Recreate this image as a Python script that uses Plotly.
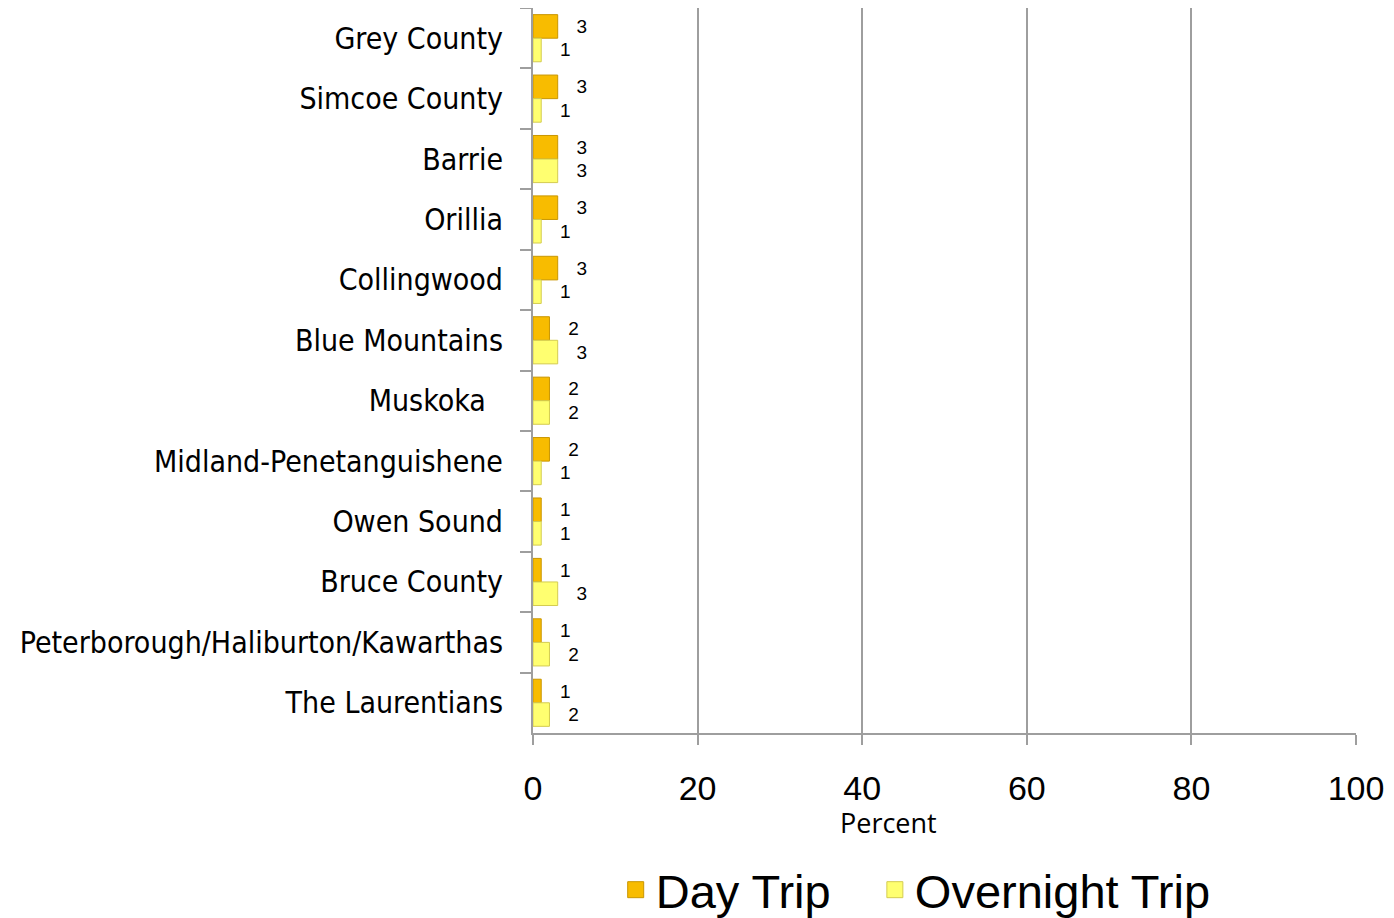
import plotly.graph_objects as go

regions = ["Grey County", "Simcoe County", "Barrie", "Orillia", "Collingwood",
           "Blue Mountains", "Muskoka\u00a0\u00a0", "Midland-Penetanguishene", "Owen Sound",
           "Bruce County", "Peterborough/Haliburton/Kawarthas", "The Laurentians"]
day_trip = [3, 3, 3, 3, 3, 2, 2, 2, 1, 1, 1, 1]
overnight_trip = [1, 1, 3, 1, 1, 3, 2, 1, 1, 3, 2, 2]
x_ticks = [0, 20, 40, 60, 80, 100]

day_col, day_edge = "#F8BC00", "#C99600"
night_col, night_edge = "#FFFF70", "#D4CC50"
label_font = dict(family="Arial, Liberation Sans", size=19, color="black")

fig = go.Figure()

# day trip first so it sits on top with the reversed category axis
fig.add_trace(go.Bar(
    y=regions, x=day_trip, orientation="h", name="Day Trip", showlegend=False,
    marker=dict(color=day_col, line=dict(color=day_edge, width=1)),
    text=["   " + str(v) for v in day_trip], textposition="outside",
    textfont=label_font, cliponaxis=False,
))
fig.add_trace(go.Bar(
    y=regions, x=overnight_trip, orientation="h", name="Overnight Trip", showlegend=False,
    marker=dict(color=night_col, line=dict(color=night_edge, width=1)),
    text=["   " + str(v) for v in overnight_trip], textposition="outside",
    textfont=label_font, cliponaxis=False,
))

# legend-only entries with square swatches
for nm, c, e in [("Day Trip\u00a0\u00a0\u00a0", day_col, day_edge),
                 ("Overnight Trip", night_col, night_edge)]:
    fig.add_trace(go.Scatter(
        x=[None], y=[None], mode="markers", name=nm,
        marker=dict(symbol="square", size=24, color=c, line=dict(color=e, width=1)),
    ))

fig.update_layout(
    width=1386, height=910,
    barmode="group", bargap=0.22, bargroupgap=0,
    plot_bgcolor="white", paper_bgcolor="white",
    margin=dict(l=525, r=38, t=0, b=185, autoexpand=False),
    showlegend=True,
    legend=dict(orientation="h", x=0.465, xanchor="center", y=-0.165, yanchor="top",
                font=dict(family="Arial, Liberation Sans", size=47, color="black"),
                itemsizing="trace", traceorder="normal"),
    uniformtext=dict(minsize=19, mode="show"),
)

fig.update_xaxes(
    range=[0, 100], tickvals=x_ticks,
    showgrid=True, gridcolor="#9E9E9E", gridwidth=1.5,
    showline=True, linecolor="#9E9E9E", linewidth=2,
    ticks="outside", ticklen=10, tickcolor="#9E9E9E", tickwidth=2,
    ticklabelstandoff=14,
    tickfont=dict(family="Arial, Liberation Sans", size=34, color="black"),
    zeroline=False,
)
fig.update_yaxes(
    autorange="reversed", tickson="boundaries",
    showline=True, linecolor="#9E9E9E", linewidth=2,
    ticks="outside", ticklen=11, tickcolor="#9E9E9E", tickwidth=2,
    ticklabelstandoff=22,
    tickfont=dict(family="Liberation Sans Narrow, DejaVu Sans Condensed, Liberation Sans",
                  size=30, color="black"),
)

fig.add_annotation(text="Percent", xref="paper", yref="paper",
                   x=(888 - 533) / 823, y=-89 / 725, xanchor="center", yanchor="middle",
                   showarrow=False,
                   font=dict(family="Open Sans, DejaVu Sans", size=27, color="black"))

fig.write_html("out.html")
